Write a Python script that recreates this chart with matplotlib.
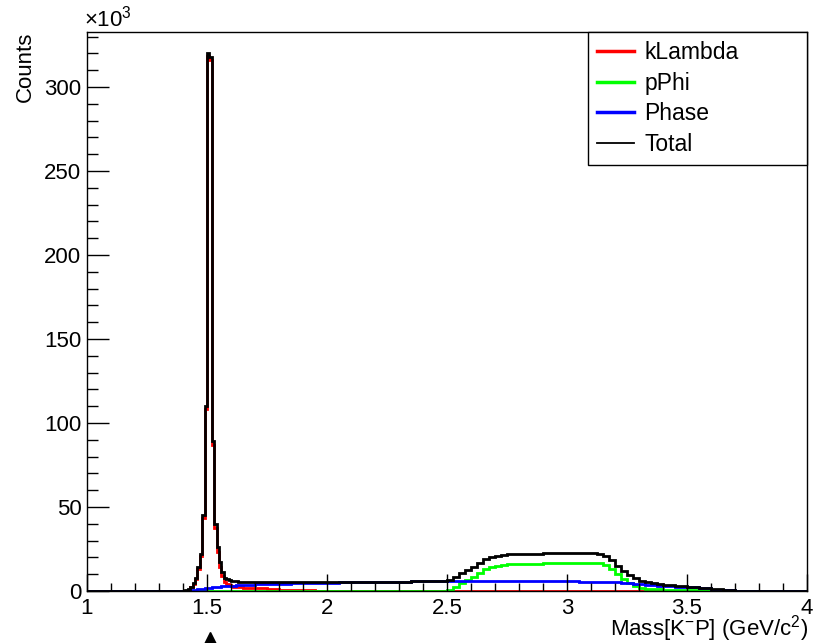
import numpy as np
import matplotlib
matplotlib.use("Agg")
import matplotlib.pyplot as plt
from matplotlib.lines import Line2D

plt.rcParams['font.family'] = ['Liberation Sans', 'DejaVu Sans']
plt.rcParams['mathtext.fontset'] = 'custom'
plt.rcParams['mathtext.rm'] = 'Liberation Sans'
plt.rcParams['mathtext.default'] = 'regular'

# binning: (start, stop, width) segments, finer where the shape changes fast
segments = [(1.0, 1.4, 0.1), (1.4, 1.65, 0.01), (1.65, 2.45, 0.05),
            (2.45, 2.75, 0.025), (2.75, 3.1, 0.05), (3.1, 3.4, 0.025),
            (3.4, 4.0, 0.05)]

# counts in units of 10^3
klambda = [0, 0, 0, 0,
           0, 0.2, 0.8, 2.1, 4.4, 7.2, 13.0, 20.8, 43.6, 108.4, 318.2, 316.0, 86.8,
           37.6, 23.5, 14.4, 8.8, 5.2, 4.1, 3.3, 2.9, 2.6, 2.4, 2.2, 2.1,
           1.8, 1.5, 1.2, 0.8, 0.5, 0.3, 0.2, 0.1, 0.1, 0, 0, 0, 0, 0, 0, 0,
           0, 0, 0, 0, 0, 0, 0, 0, 0, 0, 0, 0,
           0, 0, 0, 0, 0, 0, 0,
           0, 0, 0, 0, 0, 0, 0, 0, 0, 0, 0, 0,
           0, 0, 0, 0, 0, 0, 0, 0, 0, 0, 0, 0]

pphi = [0, 0, 0, 0,
        0, 0, 0, 0, 0, 0, 0, 0, 0, 0, 0, 0, 0, 0, 0, 0, 0, 0, 0, 0, 0, 0, 0, 0, 0,
        0, 0, 0, 0, 0, 0, 0, 0, 0, 0, 0, 0, 0, 0, 0, 0,
        0, 0.2, 0.8, 2.5, 4.5, 6.5, 8.5, 10.8, 12.8, 14.2, 15.0, 15.4,
        15.8, 16.0, 16.3, 16.5, 16.7, 16.8, 16.9,
        16.9, 16.6, 15.5, 13.0, 10.0, 7.0, 5.0, 3.2, 2.0, 1.4, 1.1, 0.9,
        0.7, 0.5, 0.4, 0.3, 0.2, 0.1, 0, 0, 0, 0, 0, 0]

phase = [0, 0, 0, 0,
         0, 0.1, 0.2, 0.4, 0.6, 0.8, 1.0, 1.2, 1.4, 1.6, 1.8, 2.0, 2.2, 2.4, 2.5,
         2.6, 2.7, 2.8, 2.9, 3.0, 3.1, 3.2, 3.3, 3.4, 3.5,
         3.8, 4.0, 4.2, 4.4, 4.6, 4.8, 4.9, 5.0, 5.1, 5.2, 5.3, 5.4, 5.5, 5.6, 5.7, 5.8,
         5.9, 5.9, 6.0, 6.0, 6.0, 6.0, 6.0, 6.0, 6.0, 6.0, 6.0, 6.0,
         6.0, 6.0, 5.9, 5.9, 5.8, 5.8, 5.6,
         5.5, 5.4, 5.3, 5.2, 5.1, 5.0, 4.7, 4.3, 4.0, 3.7, 3.4, 3.2,
         3.0, 2.6, 2.1, 1.5, 0.8, 0.3, 0, 0, 0, 0, 0, 0]

edges = [1.0]
for a, b, w in segments:
    n = int(round((b - a) / w))
    edges += list(np.round(a + w * np.arange(1, n + 1), 4))
edges = np.array(edges)

klambda = np.array(klambda)
pphi = np.array(pphi)
phase = np.array(phase)
total = klambda + pphi + phase
assert len(edges) - 1 == len(klambda) == len(pphi) == len(phase)

W, H = 818, 643
fig = plt.figure(figsize=(W / 100, H / 100), dpi=100)
ax = fig.add_axes([87 / W, (H - 591) / H, 720 / W, 559 / H])

ax.stairs(klambda, edges, color='#ff0000', lw=2)
ax.stairs(pphi, edges, color='#00ff00', lw=2)
ax.stairs(phase, edges, color='#0000ff', lw=2)
ax.stairs(total, edges, color='black', lw=2)

ax.set_xlim(1, 4)
ax.set_ylim(0, 332.7)
ax.set_xticks([1, 1.5, 2, 2.5, 3, 3.5, 4])
ax.set_xticklabels(['1', '1.5', '2', '2.5', '3', '3.5', '4'])
ax.set_xticks(np.arange(1, 4.001, 0.1), minor=True)
ax.set_yticks([0, 50, 100, 150, 200, 250, 300])
ax.set_yticks(np.arange(0, 331, 10), minor=True)
ax.tick_params(axis='both', which='both', direction='in', top=False, right=False,
               labelsize=16, width=1)
ax.tick_params(axis='x', which='major', length=12.5, pad=5)
ax.tick_params(axis='x', which='minor', length=6)
ax.tick_params(axis='y', which='major', length=16, pad=4)
ax.tick_params(axis='y', which='minor', length=8)
for s in ax.spines.values():
    s.set_linewidth(1)

fig.text(25 / W, 1 - 32 / H, 'Counts', rotation=90, ha='center', va='top', fontsize=16)
fig.text(84 / W, 1 - 27 / H, '\u00d710$^{3}$', ha='left', va='baseline', fontsize=16)
fig.text(808 / W, 1 - 636 / H, 'Mass[K$^{-}$P] (GeV/c$^{2}$)', ha='right',
         va='baseline', fontsize=16)

# marker under the peak
ax.plot([1.512], [-0.0877], marker='^', color='black', ms=12,
        transform=ax.get_xaxis_transform(), clip_on=False)

handles = [Line2D([], [], color='#ff0000', lw=2.5),
           Line2D([], [], color='#00ff00', lw=2.5),
           Line2D([], [], color='#0000ff', lw=2.5),
           Line2D([], [], color='black', lw=1.3)]
leg = fig.legend(handles, ['kLambda', 'pPhi', 'Phase', 'Total'],
                 loc='upper left', mode='expand',
                 bbox_to_anchor=(588 / W, 1 - 159 / H, 219 / W, 127 / H),
                 borderaxespad=0, fontsize=16.5, handlelength=1.6,
                 handletextpad=0.45, labelspacing=0.33, borderpad=0.4,
                 fancybox=False, framealpha=1, edgecolor='black')
leg.get_frame().set_linewidth(1)

fig.savefig('out.png', dpi=100)
